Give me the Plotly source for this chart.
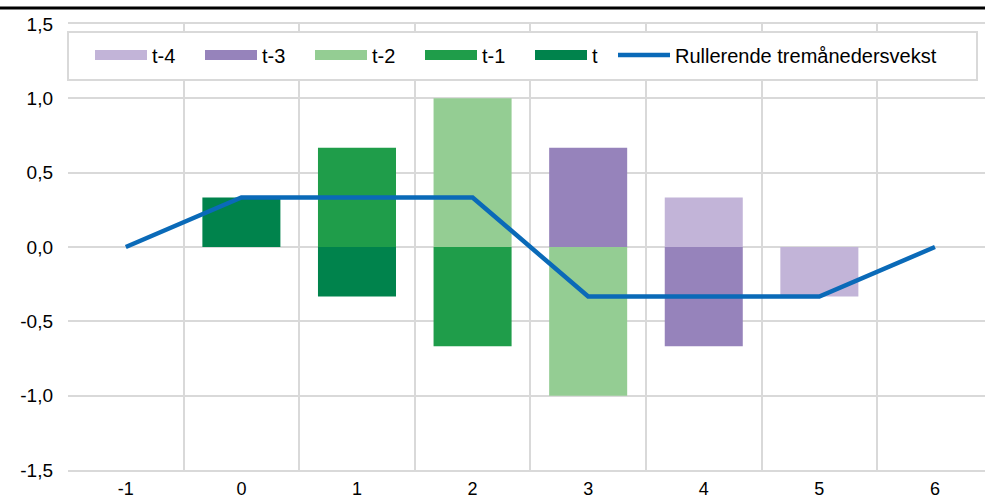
import plotly.graph_objects as go

# Month offsets on the horizontal axis
months = ["-1", "0", "1", "2", "3", "4", "5", "6"]

# Monthly contributions (percentage points) by vintage
t_minus4 = [None, None, None, None, None, 0.333, -0.333, None]
t_minus3 = [None, None, None, None, 0.667, -0.667, None, None]
t_minus2 = [None, None, None, 1.0, -1.0, None, None, None]
t_minus1 = [None, None, 0.667, -0.667, None, None, None, None]
t_now = [None, 0.333, -0.333, None, None, None, None, None]

# Rolling three-month growth
rolling = [0.0, 0.333, 0.333, 0.333, -0.333, -0.333, -0.333, 0.0]

# Value-axis ticks and their labels (decimal comma, hyphen minus)
y_ticks = [-1.5, -1.0, -0.5, 0.0, 0.5, 1.0, 1.5]
y_labels = ["-1,5", "-1,0", "-0,5", "0,0", "0,5", "1,0", "1,5"]

series_names = ["t-4", "t-3", "t-2", "t-1", "t"]
series_values = [t_minus4, t_minus3, t_minus2, t_minus1, t_now]
series_colors = ["#C2B4D8", "#9683BB", "#94CD93", "#1F9D4A", "#00834C"]
line_name = "Rullerende tremånedersvekst"
line_color = "#0A6AB8"

FONT = "Liberation Sans, Arial, sans-serif"
GRID = "#D9D9D9"

fig = go.Figure()

for name, vals, col in zip(series_names, series_values, series_colors):
    fig.add_trace(go.Bar(
        x=months, y=vals, name=name, marker=dict(color=col, line=dict(width=0)),
        showlegend=False,
    ))

fig.add_trace(go.Scatter(
    x=months, y=rolling, mode="lines", name=line_name,
    line=dict(color=line_color, width=4.5), legend="legend2",
))

# Wide rectangular legend keys for the bar series
for name, col in zip(series_names, series_colors):
    fig.add_trace(go.Scatter(
        x=[None], y=[None], mode="lines", name=name,
        line=dict(color=col, width=11), legend="legend",
    ))

W, H = 985, 499
L, R, T, B = 68, 0, 24, 29
pw, ph = W - L - R, H - T - B

def px(xp):
    return (xp - L) / pw

def py(yp):
    return (H - B - yp) / ph

fig.update_layout(
    width=W, height=H,
    margin=dict(l=L, r=R, t=T, b=B, autoexpand=False),
    paper_bgcolor="white", plot_bgcolor="white",
    barmode="relative", bargap=0.325,
    font=dict(family=FONT, size=19, color="black"),
    legend=dict(
        orientation="h", x=px(90), xanchor="left", y=py(55), yanchor="middle",
        bgcolor="rgba(0,0,0,0)", borderwidth=0, itemwidth=52,
        entrywidth=43, entrywidthmode="pixels", traceorder="normal",
        font=dict(family=FONT, size=20, color="black"),
    ),
    legend2=dict(
        orientation="h", x=px(613), xanchor="left", y=py(55), yanchor="middle",
        bgcolor="rgba(0,0,0,0)", borderwidth=0, itemwidth=52,
        font=dict(family=FONT, size=20, color="black"),
    ),
    xaxis=dict(
        type="category", range=[-0.5, 7.433], tickson="boundaries",
        showgrid=True, gridcolor=GRID, gridwidth=2,
        showline=True, linecolor=GRID, linewidth=2, mirror=True,
        ticks="", ticklabelstandoff=1, fixedrange=True, automargin=False,
        tickfont=dict(family=FONT, size=18),
    ),
    yaxis=dict(
        range=[-1.5, 1.5], tickmode="array", tickvals=y_ticks, ticktext=y_labels,
        showgrid=True, gridcolor=GRID, gridwidth=2, zeroline=False,
        showline=False, ticks="", ticklabelstandoff=14, automargin=False,
        tickfont=dict(family=FONT, size=19),
    ),
    shapes=[
        # legend frame
        dict(type="rect", xref="paper", yref="paper",
             x0=px(68), x1=px(977), y0=py(80), y1=py(32),
             line=dict(color=GRID, width=2), fillcolor="white", layer="above"),
        # heading rule
        dict(type="line", xref="paper", yref="paper",
             x0=-L / pw, x1=1, y0=py(8), y1=py(8),
             line=dict(color="black", width=3), layer="above"),
    ],
)

fig.write_html("out.html")
